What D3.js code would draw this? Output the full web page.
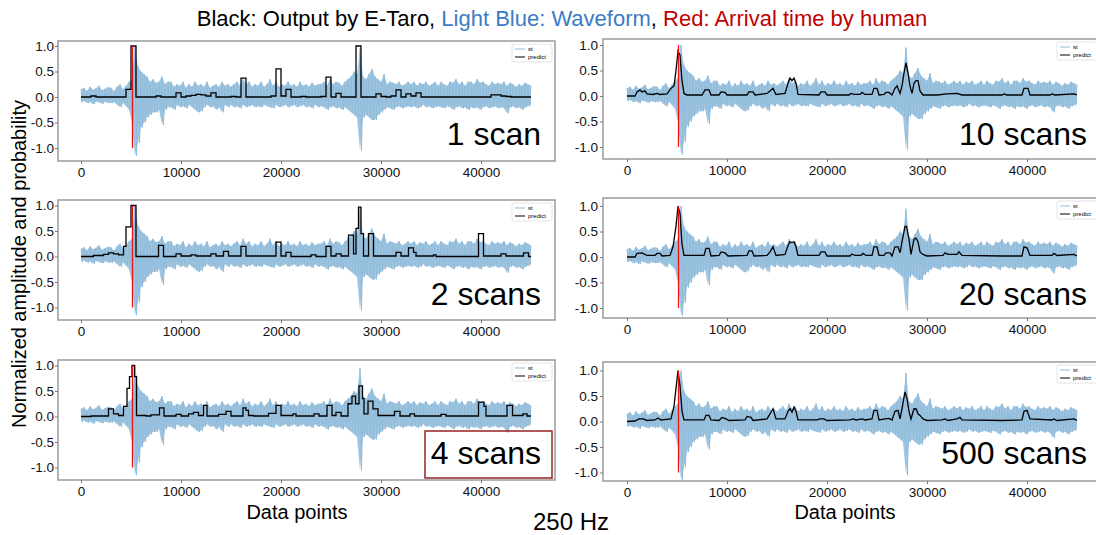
<!DOCTYPE html>
<html>
<head>
<meta charset="utf-8">
<script src="https://cdn.jsdelivr.net/npm/d3@7"></script>
<style>
  body { margin: 0; background: #fff; }
  svg { font-family: "Liberation Sans", Arial, sans-serif; display: block; }
</style>
</head>
<body>
<svg id="chart"></svg>
<script>
const width = 1096
const height = 535

// waveform envelope, one hi/lo pair every 300 samples
const waveStep = 300
const waveHi = [
  .15,.18,.12,.2,.14,.17,.22,.13,.16,.19,
  .18,.12,.2,.25,.15,.22,.3,.35,1.0,.6,
  .5,.45,.4,.3,.35,.28,.3,.4,.25,.3,
  .3,.2,.25,.22,.3,.18,.25,.2,.3,.22,
  .25,.2,.3,.18,.22,.25,.2,.3,.22,.25,
  .2,.25,.3,.22,.35,.25,.3,.2,.25,.22,
  .3,.2,.25,.35,.22,.3,.2,.25,.22,.3,
  .22,.25,.2,.3,.22,.25,.2,.28,.22,.25,
  .25,.3,.22,.35,.25,.3,.28,.22,.3,.35,
  .4,.5,.45,.95,.4,.35,.45,.55,.4,.35,
  .3,.45,.25,.3,.28,.25,.3,.22,.25,.3,
  .25,.3,.22,.28,.25,.3,.22,.25,.3,.22,
  .3,.25,.22,.3,.28,.35,.25,.3,.22,.3,
  .3,.25,.35,.28,.3,.25,.22,.3,.25,.28,
  .25,.3,.22,.28,.25,.2,.25,.22,.28,.25,.22
]
const waveLo = [
  -.1,-.08,-.12,-.1,-.14,-.09,-.11,-.13,-.1,-.12,
  -.12,-.1,-.15,-.2,-.12,-.18,-.25,-.5,-1.15,-.9,
  -.6,-.5,-.4,-.35,-.3,-.3,-.25,-.55,-.25,-.2,
  -.2,-.25,-.15,-.2,-.18,-.22,-.15,-.2,-.25,-.3,
  -.28,-.2,-.15,-.2,-.18,-.25,-.2,-.3,-.15,-.2,
  -.15,-.2,-.18,-.22,-.15,-.2,-.18,-.15,-.2,-.18,
  -.2,-.15,-.18,-.2,-.22,-.15,-.2,-.18,-.15,-.2,
  -.18,-.15,-.2,-.18,-.15,-.2,-.18,-.22,-.15,-.2,
  -.18,-.2,-.25,-.2,-.18,-.22,-.2,-.25,-.2,-.25,
  -.3,-.35,-.4,-1.05,-.4,-.35,-.4,-.45,-.45,-.35,
  -.3,-.25,-.2,-.22,-.25,-.2,-.18,-.22,-.2,-.18,
  -.2,-.18,-.22,-.2,-.15,-.2,-.18,-.22,-.2,-.18,
  -.2,-.22,-.18,-.2,-.25,-.2,-.18,-.22,-.2,-.25,
  -.2,-.22,-.2,-.25,-.2,-.18,-.22,-.2,-.18,-.22,
  -.2,-.22,-.32,-.2,-.18,-.22,-.2,-.25,-.2,-.18,-.15
]

// arrival time picked by human
const arrival = 5150

// E-Taro output: [start sample, probability] (step panels)
const scan1 = [[0,0],[1000,.02],[1500,0],[4500,.15],[5000,1.0],[5500,0],[7500,.02],[8000,0],[9500,.08],[10000,0],[10500,.02],[11000,.03],[11500,.05],[12000,.04],[12500,.02],[13000,.08],[13500,0],[15000,.01],[15500,0],[16000,.37],[16500,0],[19000,.02],[19500,.55],[20000,.02],[20500,.15],[21000,0],[22000,.01],[22500,0],[24000,.01],[24500,.39],[25000,0],[25500,.07],[26000,0],[27500,1.0],[28000,0],[29500,.06],[30000,.01],[30500,0],[31000,.02],[31500,.14],[32000,0],[32500,.06],[33000,.02],[33500,.08],[34000,0],[41000,.04],[42000,.02],[42500,.01],[43000,0],[45000,0]]
const scan2 = [[0,0],[1250,.02],[2250,.04],[2750,.07],[3250,.05],[3750,.03],[4250,.2],[4500,.58],[5000,1.0],[5500,0],[7750,.22],[8250,0],[9500,.05],[10000,.01],[11000,.03],[11500,.01],[13000,.05],[13500,.01],[14250,.1],[14750,.01],[16000,.2],[16500,.01],[19500,.28],[20000,.01],[20500,.08],[21000,0],[23000,.03],[23500,0],[24500,.2],[25000,.01],[25500,.05],[26000,.01],[26750,.42],[27250,.05],[27500,.55],[27750,.97],[28000,.45],[28250,.01],[28750,.45],[29250,.01],[31500,.08],[32000,.01],[32750,.17],[33250,.08],[33500,.01],[35250,.03],[35500,0],[39750,.45],[40250,.01],[42000,.05],[42500,.01],[44250,.07],[44750,0],[45000,0]]
const scan4 = [[0,0],[1000,.01],[2750,.15],[3250,.05],[3750,.02],[4250,.2],[4600,.55],[4850,.78],[5100,1.0],[5350,.78],[5550,.02],[6500,.01],[7000,.03],[7850,.17],[8300,.01],[9500,.04],[10000,.01],[10750,.05],[11250,.08],[11750,.02],[12250,.22],[12600,.01],[13750,.04],[14500,.1],[15000,.01],[16200,.17],[16500,.12],[16750,.02],[17250,.01],[18750,.06],[19500,.22],[20000,.02],[21200,.05],[21500,.01],[23300,.05],[23800,.01],[24600,.22],[25100,.02],[25500,.08],[26000,.01],[26700,.25],[27100,.4],[27450,.25],[27800,.6],[28150,.35],[28300,.05],[28700,.3],[29200,.15],[29700,.02],[31350,.1],[31900,.01],[32900,.05],[33350,.01],[36000,.04],[36500,.01],[39750,.28],[40300,.2],[40500,.01],[42600,.22],[43150,.02],[44200,.05],[44600,.01],[45000,.01]]

// E-Taro output: [sample, probability] (smooth panels)
const scan10 = [[0,0],[800,0],[1000,.08],[1300,.12],[1500,.08],[1800,.1],[2000,.04],[2600,.03],[3000,.05],[3300,.03],[4000,.04],[4400,.15],[4700,.2],[4900,.5],[5100,.88],[5300,.8],[5500,.3],[5700,.05],[6000,.02],[7500,.02],[7800,.12],[8200,.12],[8400,.02],[9200,.02],[9400,.08],[9800,.07],[10000,.02],[12000,.02],[12200,.08],[12600,.08],[12800,.02],[14000,.05],[14300,.1],[14600,.15],[14900,.03],[15800,.05],[16100,.25],[16300,.35],[16500,.3],[16700,.35],[16900,.25],[17100,.03],[19200,.02],[19400,.08],[19800,.08],[20000,.02],[22200,.02],[22400,.05],[22700,.03],[23300,.03],[23500,.07],[23800,.03],[24500,.03],[24700,.15],[25000,.15],[25200,.02],[25700,.03],[25900,.07],[26200,.07],[26500,.02],[26800,.15],[27000,.2],[27300,.05],[27500,.2],[27700,.45],[27900,.65],[28100,.45],[28300,.2],[28500,.05],[28700,.25],[28900,.3],[29100,.3],[29300,.1],[29600,.02],[31000,.02],[32000,.04],[33000,.05],[33500,.02],[37500,.02],[37700,.04],[38000,.02],[39500,.02],[39700,.15],[40100,.15],[40300,.02],[42300,.02],[42500,.04],[42800,.02],[44700,.04],[45000,.02]]
const scan20 = [[0,0],[800,0],[1000,.07],[1500,.08],[2000,.03],[2800,.03],[3000,.07],[3300,.07],[3500,.02],[4300,.03],[4600,.2],[4900,.6],[5100,1.0],[5300,.85],[5500,.25],[5700,.03],[7700,.03],[7900,.17],[8200,.17],[8400,.02],[9200,.03],[9400,.1],[9800,.08],[10100,.02],[12000,.03],[12200,.12],[12500,.12],[12700,.02],[14000,.03],[14300,.1],[14600,.2],[14900,.03],[15800,.05],[16100,.22],[16300,.3],[16500,.28],[16700,.3],[16900,.2],[17100,.03],[19200,.03],[19400,.1],[19800,.1],[20000,.02],[22300,.02],[22500,.06],[22800,.03],[23400,.03],[23600,.07],[23900,.03],[24500,.03],[24700,.2],[25000,.2],[25200,.03],[25700,.03],[25900,.08],[26300,.08],[26500,.02],[26800,.2],[27100,.2],[27300,.08],[27500,.3],[27800,.6],[27950,.6],[28200,.35],[28400,.05],[28700,.35],[28900,.37],[29100,.3],[29300,.1],[29600,.05],[30000,.02],[31600,.03],[31800,.08],[32100,.05],[33000,.05],[33200,.1],[33500,.03],[37500,.02],[39500,.02],[39700,.2],[40000,.18],[40300,.03],[42500,.03],[42700,.07],[43000,.03],[44700,.05],[45000,.02]]
const scan500 = [[0,0],[800,.01],[1200,.05],[1600,.05],[2000,.02],[2800,.03],[3100,.07],[3400,.03],[4400,.05],[4700,.3],[4900,.65],[5100,1.0],[5300,.7],[5500,.2],[5700,.03],[7700,.03],[7900,.12],[8200,.12],[8400,.03],[9200,.02],[9500,.08],[9900,.05],[10200,.02],[11800,.03],[12000,.1],[12400,.08],[12600,.02],[14000,.05],[14300,.15],[14600,.25],[14900,.05],[15800,.05],[16100,.2],[16300,.25],[16500,.18],[16700,.28],[16900,.2],[17100,.03],[19000,.03],[19300,.05],[19700,.05],[20000,.02],[22300,.03],[22600,.05],[22900,.03],[23500,.05],[23800,.03],[24500,.05],[24700,.22],[25000,.22],[25200,.03],[25800,.05],[26200,.06],[26500,.03],[26800,.2],[27100,.22],[27300,.05],[27500,.25],[27800,.58],[28000,.45],[28200,.2],[28400,.05],[28700,.25],[28900,.25],[29100,.15],[29300,.12],[29600,.05],[30000,.02],[31500,.03],[31800,.05],[32100,.02],[33000,.05],[33300,.08],[33500,.03],[37500,.02],[39500,.03],[39700,.2],[40000,.22],[40300,.05],[42500,.03],[42700,.05],[43000,.02],[44700,.05],[45000,.02]]

const xTicks = [0, 10000, 20000, 30000, 40000]
const yTicks = [-1, -0.5, 0, 0.5, 1]
const panelLabels = ["1 scan", "2 scans", "4 scans", "10 scans", "20 scans", "500 scans"]
const panelSeries = [scan1, scan2, scan4, scan10, scan20, scan500]
const panelStepped = [true, true, true, false, false, false]

// layout of the six pasted plots
const panels = [
  { x0: 81,  fl: 58,  fr: 555,  ft: 41,  fb: 161, zero: 97,    pad: 1, lx: 541,  ly: 145 },
  { x0: 81,  fl: 58,  fr: 555,  ft: 200, fb: 320, zero: 256.5, pad: 1, lx: 541,  ly: 305 },
  { x0: 81,  fl: 58,  fr: 555,  ft: 360, fb: 480, zero: 416.5, pad: 1, lx: 541,  ly: 464 },
  { x0: 627, fl: 603, fr: 1112, ft: 39,  fb: 159, zero: 96,    pad: 2, lx: 1087, ly: 145 },
  { x0: 627, fl: 603, fr: 1112, ft: 198, fb: 318, zero: 257,   pad: 2, lx: 1087, ly: 305 },
  { x0: 627, fl: 603, fr: 1112, ft: 362, fb: 481, zero: 421.5, pad: 2, lx: 1087, ly: 464 }
]

const blue = "#8fbbda"

let svg = d3.select("#chart")
  .attr("width", width)
  .attr("height", height)

svg.append("rect").attr("width", width).attr("height", height).attr("fill", "#fff")

// zigzag through the envelope so it reads like a dense trace
let wave = []
waveHi.forEach((h, i) => {
  wave.push([i * waveStep, h])
  if (i < waveLo.length - 1) wave.push([i * waveStep + waveStep / 2, waveLo[i]])
})
let band = waveHi.map((h, i) => [i * waveStep, h, waveLo[i]])

panels.forEach((p, k) => {
  let x = d3.scaleLinear().domain([0, 40000]).range([p.x0, p.x0 + 400])
  let y = d3.scaleLinear().domain([-1, 1]).range([p.zero + 51, p.zero - 51])
  let g = svg.append("g")

  g.append("rect")
    .attr("x", p.fl).attr("y", p.ft)
    .attr("width", p.fr - p.fl).attr("height", p.fb - p.ft)
    .attr("fill", "none")
    .attr("stroke", "#9a9a9a")
    .attr("stroke-width", 1.5)

  let yAxis = g.append("g")
    .attr("transform", "translate(" + p.fl + ",0)")
    .call(d3.axisLeft(y).tickValues(yTicks).tickSize(3).tickPadding(p.pad).tickFormat(d => d.toFixed(1)))
  let xAxis = g.append("g")
    .attr("transform", "translate(0," + p.fb + ")")
    .call(d3.axisBottom(x).tickValues(xTicks).tickSize(3).tickPadding(3).tickFormat(d3.format("d")))
  ;[yAxis, xAxis].forEach(a => {
    a.select(".domain").remove()
    a.selectAll(".tick line").attr("stroke", "#777")
    a.selectAll(".tick text").attr("fill", "#111").style("font-size", "13.5px")
      .style("font-family", "'Liberation Sans', Arial, sans-serif")
  })

  let line = d3.line().x(d => x(d[0])).y(d => y(d[1]))

  g.append("path")
    .datum(band)
    .attr("d", d3.area().x(d => x(d[0])).y0(d => y(d[2])).y1(d => y(d[1])))
    .attr("fill", blue)
    .attr("fill-opacity", 0.85)

  g.append("path")
    .datum(wave)
    .attr("d", line)
    .attr("fill", "none")
    .attr("stroke", blue)
    .attr("stroke-width", 0.9)

  let predLine = d3.line().x(d => x(d[0])).y(d => y(d[1]))
    .curve(panelStepped[k] ? d3.curveStepAfter : d3.curveLinear)
  g.append("path")
    .datum(panelSeries[k])
    .attr("d", predLine)
    .attr("fill", "none")
    .attr("stroke", "#000")
    .attr("stroke-width", 1.3)

  g.append("line")
    .attr("x1", x(arrival)).attr("x2", x(arrival))
    .attr("y1", y(-1)).attr("y2", y(1))
    .attr("stroke", "#ee1111")
    .attr("stroke-width", 1.3)

  // tiny legend box
  let lgx = k < 3 ? p.fr - 43 : 1057
  let lg = g.append("g").attr("transform", "translate(" + lgx + "," + (p.ft + 3) + ")")
  lg.append("rect").attr("width", 40).attr("height", 18).attr("rx", 2)
    .attr("fill", "#fff").attr("stroke", "#ddd").attr("stroke-width", 0.8)
  ;[["st", blue], ["predict", "#000"]].forEach((e, i) => {
    lg.append("line").attr("x1", 3).attr("x2", 13).attr("y1", 5 + i * 8).attr("y2", 5 + i * 8)
      .attr("stroke", e[1]).attr("stroke-width", 1)
    lg.append("text").attr("x", 16).attr("y", 7 + i * 8).style("font-size", "6px").text(e[0])
  })

  g.append("text")
    .attr("x", p.lx).attr("y", p.ly)
    .attr("text-anchor", "end")
    .style("font-size", "32px")
    .text(panelLabels[k])
})

// box around "4 scans"
svg.append("rect")
  .attr("x", 425).attr("y", 431).attr("width", 127).attr("height", 47)
  .attr("fill", "none").attr("stroke", "#9b2222").attr("stroke-width", 1.5)

// title
let title = svg.append("text").attr("x", 562).attr("y", 26).attr("text-anchor", "middle").style("font-size", "22px")
title.append("tspan").attr("fill", "#000").text("Black: Output by E-Taro, ")
title.append("tspan").attr("fill", "#3b7cc4").text("Light Blue: Waveform")
title.append("tspan").attr("fill", "#000").text(", ")
title.append("tspan").attr("fill", "#c00000").text("Red: Arrival time by human")

svg.append("text")
  .attr("transform", "translate(26,264) rotate(-90)")
  .attr("text-anchor", "middle")
  .attr("textLength", 328)
  .attr("lengthAdjust", "spacingAndGlyphs")
  .style("font-size", "21px")
  .text("Normalized amplitude and probability")

svg.append("text").attr("x", 297).attr("y", 519).attr("text-anchor", "middle").style("font-size", "20px").text("Data points")
svg.append("text").attr("x", 845).attr("y", 519).attr("text-anchor", "middle").style("font-size", "20px").text("Data points")
svg.append("text").attr("x", 571).attr("y", 530).attr("text-anchor", "middle").style("font-size", "24px").text("250 Hz")
</script>
</body>
</html>
